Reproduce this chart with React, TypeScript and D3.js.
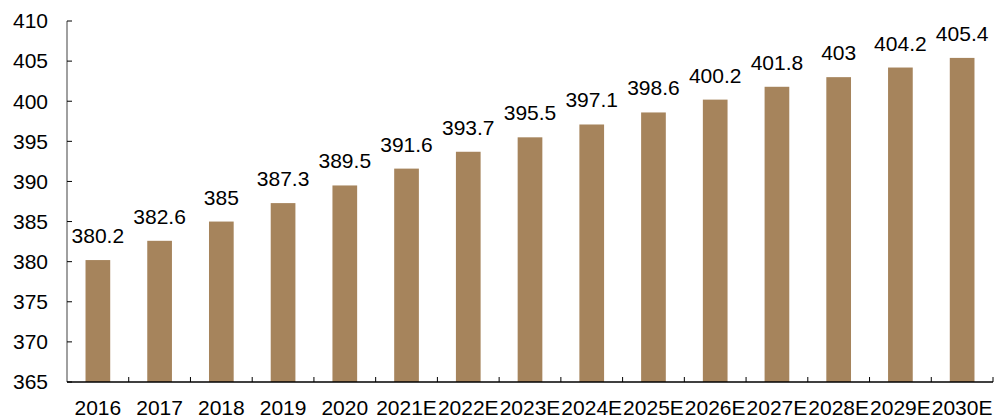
import React from "react";
import * as d3 from "d3";

const categories = ["2016","2017","2018","2019","2020","2021E","2022E","2023E","2024E","2025E","2026E","2027E","2028E","2029E","2030E"];
const values = [380.2,382.6,385,387.3,389.5,391.6,393.7,395.5,397.1,398.6,400.2,401.8,403,404.2,405.4];
const yTicks = [365,370,375,380,385,390,395,400,405,410];

export default function App() {
  const W = 1003, H = 418;
  const left = 67, right = 993, top = 21, bottom = 382;
  const x = d3.scaleBand<string>().domain(categories).range([left, right]).paddingInner(0.6).paddingOuter(0.3);
  const xb = d3.scaleBand<string>().domain(categories).range([left, right]);
  const y = d3.scaleLinear().domain([365, 410]).range([bottom, top]);
  const font = "Liberation Sans, Arial, sans-serif";
  return (
    <svg width={W} height={H} style={{ position: "absolute", left: 0, top: 0 }} fontFamily={font}>
      <rect width={W} height={H} fill="#fff" />
      {categories.map((c, i) => (
        <rect key={c} x={x(c)} y={y(values[i])} width={x.bandwidth()} height={bottom - y(values[i])} fill="#A6845C" />
      ))}
      <line x1={left} x2={left} y1={top} y2={bottom} stroke="#808080" strokeWidth={1.5} />
      <line x1={left} x2={right} y1={bottom} y2={bottom} stroke="#000" strokeWidth={1.5} />
      {yTicks.map(t => (
        <g key={t}>
          <line x1={left} x2={left + 5} y1={y(t)} y2={y(t)} stroke="#000" strokeWidth={1} />
          <text x={48} y={y(t)} dy="0.35em" textAnchor="end" fontSize={21} fill="#000">{t}</text>
        </g>
      ))}
      {categories.map((c, i) => (
        <line key={"t" + c} x1={(xb(c) as number) + xb.bandwidth()} x2={(xb(c) as number) + xb.bandwidth()} y1={bottom} y2={bottom - 5} stroke="#000" strokeWidth={1} />
      ))}
      {categories.map((c, i) => (
        <text key={"l" + c} x={(xb(c) as number) + xb.bandwidth() / 2} y={415} textAnchor="middle" fontSize={21} fill="#000">{c}</text>
      ))}
      {categories.map((c, i) => (
        <text key={"v" + c} x={(x(c) as number) + x.bandwidth() / 2} y={y(values[i]) - 17} textAnchor="middle" fontSize={21} fill="#000">{values[i]}</text>
      ))}
    </svg>
  );
}
